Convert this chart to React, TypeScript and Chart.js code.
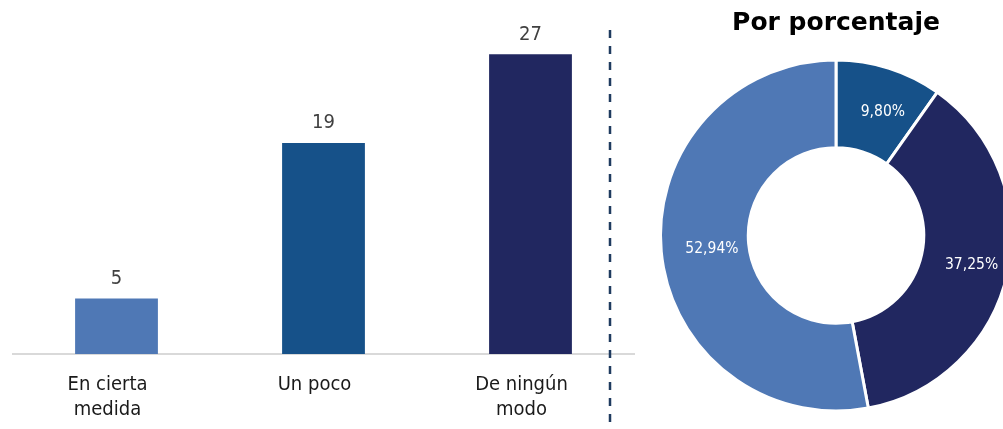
import React, { useEffect, useRef } from "react";
import { Chart, registerables } from "chart.js";
Chart.register(...registerables);

const FONT = '"DejaVu Sans Condensed", "DejaVu Sans", sans-serif';
const TITLE_FONT = '"DejaVu Sans", sans-serif';

const categories = [["En cierta", "medida"], "Un poco", ["De ningún", "modo"]];
const barValues = [5, 19, 27];
const barColors = ["#4f78b5", "#165189", "#212760"];

const pieLabels = ["Un poco", "De ningún modo", "En cierta medida"];
const pieValues = [9.8, 37.25, 52.94];
const pieColors = ["#165189", "#212760", "#4f78b5"];

const titleText = "Por porcentaje";

export default function App() {
  const barRef = useRef<HTMLCanvasElement>(null);
  const pieRef = useRef<HTMLCanvasElement>(null);

  useEffect(() => {
    const valueLabels = {
      id: "valueLabels",
      afterDatasetsDraw(chart: any) {
        const ctx = chart.ctx;
        const meta = chart.getDatasetMeta(0);
        ctx.save();
        ctx.font = `20px ${FONT}`;
        ctx.fillStyle = "#404040";
        ctx.textAlign = "center";
        ctx.textBaseline = "middle";
        meta.data.forEach((el: any, i: number) => {
          ctx.fillText(String(barValues[i]), el.x, el.y - 20);
        });
        ctx.restore();
      },
    };
    const separator = {
      id: "separator",
      afterDraw(chart: any) {
        const ctx = chart.ctx;
        const x = chart.chartArea.right - 24;
        ctx.save();
        ctx.setLineDash([8, 8]);
        ctx.lineWidth = 2.5;
        ctx.strokeStyle = "#1f3b5f";
        ctx.beginPath();
        ctx.moveTo(x, 30);
        ctx.lineTo(x, 426);
        ctx.stroke();
        ctx.restore();
      },
    };
    const pieLabelsPlugin = {
      id: "pieLabels",
      afterDatasetsDraw(chart: any) {
        const ctx = chart.ctx;
        const meta = chart.getDatasetMeta(0);
        ctx.save();
        ctx.font = `15.5px ${FONT}`;
        ctx.fillStyle = "#ffffff";
        ctx.textAlign = "center";
        ctx.textBaseline = "middle";
        meta.data.forEach((arc: any, i: number) => {
          const p = arc.tooltipPosition();
          ctx.fillText(
            pieValues[i].toFixed(2).replace(".", ",") + "%",
            p.x + 7,
            p.y + 1.5
          );
        });
        ctx.restore();
      },
    };

    const bar = new Chart(barRef.current as HTMLCanvasElement, {
      type: "bar",
      data: {
        labels: categories as any,
        datasets: [
          {
            data: barValues,
            backgroundColor: barColors,
            barPercentage: 0.4,
            categoryPercentage: 1,
          },
        ],
      },
      options: {
        responsive: false,
        animation: false,
        layout: { padding: { left: 13, right: 6, top: 21, bottom: 0 } },
        plugins: { legend: { display: false }, tooltip: { enabled: false } },
        scales: {
          x: {
            grid: { color: "rgba(0,0,0,0)", drawTicks: false },
            border: { color: "#d9d9d9", width: 2 },
            ticks: {
              color: "#1a1a1a",
              font: { family: FONT, size: 20, lineHeight: 1.25 },
              padding: 18,
              labelOffset: -9,
              maxRotation: 0,
              autoSkip: false,
            },
            afterFit: (a: any) => {
              a.height = 75;
            },
          },
          y: { display: false, min: 0, max: 30 },
        },
      },
      plugins: [valueLabels, separator],
    });

    const pie = new Chart(pieRef.current as HTMLCanvasElement, {
      type: "doughnut",
      data: {
        labels: pieLabels,
        datasets: [
          {
            data: pieValues,
            backgroundColor: pieColors,
            borderColor: "#ffffff",
            borderWidth: 3,
          },
        ],
      },
      options: {
        responsive: false,
        animation: false,
        cutout: "50%",
        layout: { padding: { left: 19, right: 19, top: 0, bottom: 16.5 } },
        plugins: {
          legend: { display: false },
          tooltip: { enabled: false },
          title: {
            display: true,
            text: titleText,
            color: "#000000",
            font: { family: TITLE_FONT, size: 25, weight: "bold", lineHeight: 1.2 },
            padding: { top: 8, bottom: 20.5 },
          },
        },
      },
      plugins: [pieLabelsPlugin],
    });

    return () => {
      bar.destroy();
      pie.destroy();
    };
  }, []);

  return (
    <div
      style={{
        position: "fixed",
        left: 0,
        top: 0,
        width: 1003,
        height: 429,
        overflow: "hidden",
        background: "#ffffff",
      }}
    >
      <canvas
        ref={barRef}
        width={640}
        height={429}
        style={{ position: "absolute", left: 0, top: 0, display: "block" }}
      />
      <canvas
        ref={pieRef}
        width={392}
        height={429}
        style={{ position: "absolute", left: 640, top: 0, display: "block" }}
      />
    </div>
  );
}
